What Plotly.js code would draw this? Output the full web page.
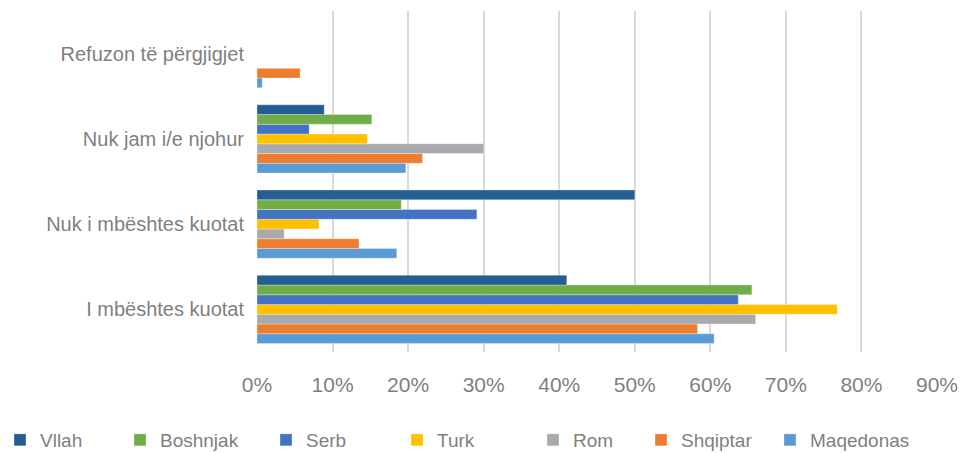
<!DOCTYPE html>
<html>
<head>
<meta charset="utf-8">
<script src="https://cdn.plot.ly/plotly-3.0.1.min.js"></script>
<style>html,body{margin:0;padding:0;background:#fff}#chart{width:963px;height:453px}</style>
</head>
<body>
<div id="chart"></div>
<script>
var categories = ["I mbështes kuotat", "Nuk i mbështes kuotat", "Nuk jam i/e njohur", "Refuzon të përgjigjet"];
var seriesNames = ["Vllah", "Boshnjak", "Serb", "Turk", "Rom", "Shqiptar", "Maqedonas"];
var vllah     = [41.0, 50.0, 8.9, 0];
var boshnjak  = [65.5, 19.1, 15.2, 0];
var serb      = [63.7, 29.1, 6.9, 0];
var turk      = [76.8, 8.2, 14.6, 0];
var rom       = [66.0, 3.6, 30.0, 0];
var shqiptar  = [58.3, 13.5, 21.9, 5.7];
var maqedonas = [60.5, 18.5, 19.7, 0.7];
var xTicks = [0, 10, 20, 30, 40, 50, 60, 70, 80, 90];
var xTickLabels = ["0%", "10%", "20%", "30%", "40%", "50%", "60%", "70%", "80%", "90%"];

var values = [vllah, boshnjak, serb, turk, rom, shqiptar, maqedonas];
var colors = ["#255E91", "#70AD47", "#4472C4", "#FFC000", "#A9AAAD", "#ED7D31", "#5B9BD5"];
var legendX = [-12, 120, 266, 397, 533, 641, 770];

var FONT = "Liberation Sans Narrow, Arial Narrow, sans-serif";
var GRAY = "#7f7f7f";

var traces = [];
for (var i = seriesNames.length - 1; i >= 0; i--) {
  traces.push({
    type: "bar",
    orientation: "h",
    name: seriesNames[i],
    y: categories,
    x: values[i],
    legend: i === 0 ? "legend" : "legend" + (i + 1),
    marker: {color: colors[i], line: {color: "rgba(255,255,255,0.5)", width: 0.6}},
    hoverinfo: "x+name"
  });
}

var layout = {
  width: 963, height: 453,
  margin: {l: 257, r: 26, t: 11, b: 101},
  paper_bgcolor: "#fff", plot_bgcolor: "#fff",
  barmode: "group",
  bargap: 0.2, bargroupgap: 0,
  font: {family: FONT, color: GRAY, size: 18},
  xaxis: {
    range: [0, 90], tickmode: "array", tickvals: xTicks, ticktext: xTickLabels,
    showgrid: true, gridcolor: "#d9d9d9", gridwidth: 2,
    zeroline: false, showline: false,
    ticklabelstandoff: 18,
    tickfont: {family: FONT, size: 21, color: GRAY},
    fixedrange: true
  },
  yaxis: {
    type: "category", categoryorder: "array", categoryarray: categories,
    showgrid: false, zeroline: false, showline: false,
    ticklabelstandoff: 12,
    tickfont: {family: FONT, size: 20, color: GRAY},
    fixedrange: true
  },
  showlegend: true
};

for (var k = 0; k < seriesNames.length; k++) {
  var key = k === 0 ? "legend" : "legend" + (k + 1);
  layout[key] = {
    orientation: "h",
    xref: "container", yref: "container",
    x: legendX[k] / 963, xanchor: "left",
    y: (453 - 440) / 453, yanchor: "middle",
    itemwidth: 30,
    bgcolor: "rgba(0,0,0,0)",
    font: {family: FONT, size: 19, color: GRAY}
  };
}

Plotly.newPlot("chart", traces, layout, {displayModeBar: false, staticPlot: true});
</script>
</body>
</html>
